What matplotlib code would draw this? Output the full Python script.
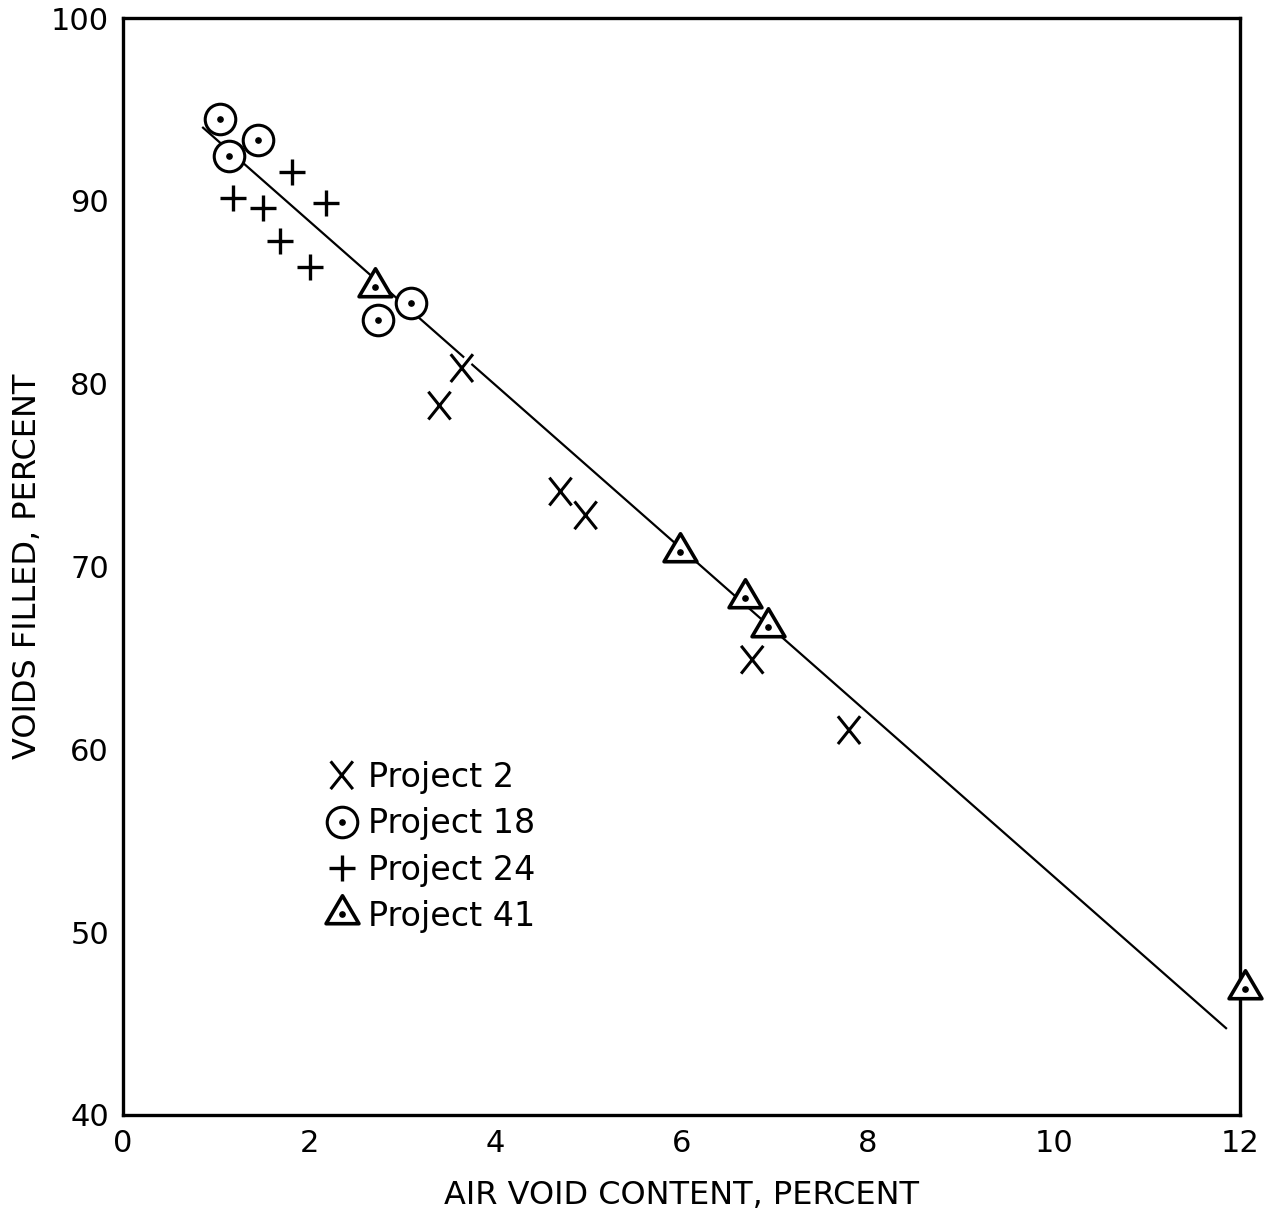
import matplotlib
matplotlib.use("Agg")
import matplotlib.pyplot as plt
import matplotlib.patheffects as pe
from matplotlib.path import Path
from matplotlib.legend_handler import HandlerTuple

plt.rcParams['font.family'] = ['DejaVu Sans']

# Data
p2_x = [3.40, 3.64, 4.70, 4.97, 6.76, 7.80]
p2_y = [78.8, 80.85, 74.1, 72.8, 64.9, 61.05]
p18_x = [1.04, 1.14, 1.45, 2.74, 3.09]
p18_y = [94.5, 92.45, 93.3, 83.5, 84.4]
p24_x = [1.18, 1.50, 1.82, 2.18, 1.69, 2.01]
p24_y = [90.15, 89.6, 91.6, 89.9, 87.8, 86.4]
p41_x = [2.71, 5.98, 6.68, 6.93, 12.05]
p41_y = [85.3, 70.8, 68.3, 66.7, 46.9]
fit_x = [0.86, 11.85]
fit_y = [94.0, 44.75]
x_ticks = [0, 2, 4, 6, 8, 10, 12]
y_ticks = [40, 50, 60, 70, 80, 90, 100]
labels = ["Project 2", "Project 18", "Project 24", "Project 41"]

W, H = 1272, 1218
fig = plt.figure(figsize=(W / 100, H / 100), dpi=100)
ax = fig.add_axes([123 / W, 1 - 1115 / H, (1240 - 123) / W, (1115 - 18) / H])

ax.plot(fit_x, fit_y, color='black', lw=1.6, zorder=1)

xmark = Path([(-0.4, -0.5), (0.4, 0.5), (-0.4, 0.5), (0.4, -0.5)],
             [Path.MOVETO, Path.LINETO, Path.MOVETO, Path.LINETO])
tri = Path([(-0.5, -0.28), (0.5, -0.28), (0.0, 0.57), (-0.5, -0.28)],
           [Path.MOVETO, Path.LINETO, Path.LINETO, Path.CLOSEPOLY])

white = [pe.Stroke(linewidth=7, foreground='white'), pe.Normal()]

h2, = ax.plot(p2_x, p2_y, ls='none', marker=xmark, ms=20, mew=2.2,
              mec='black', zorder=3, path_effects=white, clip_on=False)
h18, = ax.plot(p18_x, p18_y, ls='none', marker='o', ms=22, mew=2.2,
               mec='black', mfc='white', zorder=3, clip_on=False)
d18, = ax.plot(p18_x, p18_y, ls='none', marker='o', ms=3.8,
               color='black', zorder=4, clip_on=False)
h24, = ax.plot(p24_x, p24_y, ls='none', marker='+', ms=19, mew=2.4,
               mec='black', zorder=3, clip_on=False)
h41, = ax.plot(p41_x, p41_y, ls='none', marker=tri, ms=27, mew=2.6,
               mec='black', mfc='white', zorder=3, clip_on=False)
d41, = ax.plot(p41_x, p41_y, ls='none', marker='o', ms=3.8,
               color='black', zorder=4, clip_on=False)

ax.set_xlim(0, 12)
ax.set_ylim(40, 100)
ax.set_xticks(x_ticks)
ax.set_yticks(y_ticks)
ax.set_xticklabels([str(v) for v in x_ticks])
ax.set_yticklabels([str(v) for v in y_ticks])
ax.tick_params(length=0, labelsize=22, pad=10)
for s in ax.spines.values():
    s.set_linewidth(2.4)

ax.set_xlabel("AIR VOID CONTENT, PERCENT", fontsize=23, labelpad=16)
ax.set_ylabel("VOIDS FILLED, PERCENT", fontsize=23, labelpad=6)

leg = ax.legend([h2, (h18, d18), h24, (h41, d41)], labels,
                handler_map={tuple: HandlerTuple(ndivide=1)},
                loc='upper left', bbox_to_anchor=(0.166, 0.338),
                frameon=False, fontsize=24, handlelength=1.0,
                handletextpad=0.3, labelspacing=0.4, borderpad=0)

fig.savefig("out.png", dpi=100)
